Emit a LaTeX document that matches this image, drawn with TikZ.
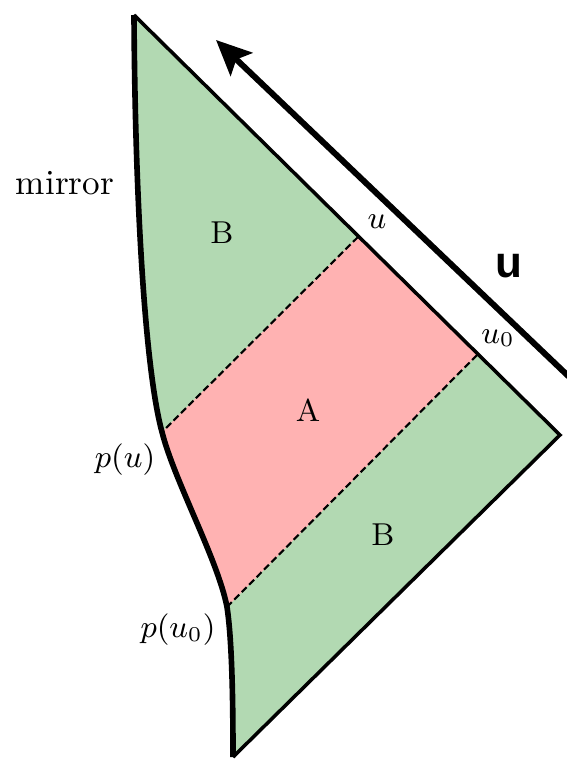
\documentclass[tikz,border=0pt]{standalone}
\usepackage{fontspec}
\newfontfamily\arrowfont{Liberation Sans}
\usetikzlibrary{arrows.meta}
\definecolor{regiongreen}{RGB}{178,217,178}
\definecolor{regionpink}{RGB}{255,178,178}

\begin{document}
\begin{tikzpicture}[
    x=0.01cm,y=-0.01cm,
    font=\small,
    lbl/.style={inner sep=1pt},
    horizon/.style={line width=1pt,line join=miter},
    mirrorline/.style={line width=1.6pt},
    ray/.style={dash pattern=on 2pt off 1pt,line width=0.6pt},
    bigarrow/.style={-{Stealth[length=10pt,width=9pt,inset=2pt]},line width=1.7pt}
  ]
  \useasboundingbox (0,0) rectangle (567,767);
  \coordinate (top) at (134,15);
  \coordinate (right) at (560,435);
  \coordinate (bot) at (233,757);
  \coordinate (u) at (358,237);
  \coordinate (u0) at (477,355);
  \coordinate (pu) at (162,432);
  \coordinate (pu0) at (227,607);

  % regions
  \fill[regiongreen] (top) -- (right) -- (bot)
    .. controls (233,700) and (232,640) .. (pu0)
    .. controls (218,560) and (174,480) .. (pu)
    .. controls (145,370) and (135,200) .. cycle;
  \fill[regionpink] (u) -- (u0) -- (pu0)
    .. controls (218,560) and (174,480) .. (pu) -- cycle;

  % light rays
  \draw[ray] (u) -- (pu);
  \draw[ray] (u0) -- (pu0);

  % null boundary and mirror
  \draw[horizon] (top) -- (right) -- (bot);
  \draw[mirrorline] (top) .. controls (135,200) and (145,370) .. (pu)
    .. controls (174,480) and (218,560) .. (pu0)
    .. controls (232,640) and (233,700) .. (bot);

  % labels
  \node[lbl,font=\normalsize] (mirrorlbl) at (65,183) {mirror};
  \node[lbl] (regB1) at (222,233) {B};
  \node[lbl] (regA) at (308,410) {A};
  \node[lbl] (regB2) at (383,535) {B};
  \node[lbl] (ulbl) at (377,222) {$u$};
  \node[lbl] (u0lbl) at (498,338) {$u_0$};
  \node[lbl] (pulbl) at (125,460) {$p(u)$};
  \node[lbl] (pu0lbl) at (178,630) {$p(u_0)$};
  \node[lbl,font=\arrowfont\bfseries\fontsize{12.5}{14}\selectfont] (dirlbl) at (509,266) {u};

  % direction of u
  \begin{scope}
    \clip (0,0) rectangle (567,767);
    \coordinate (tail) at (585,392);
    \coordinate (head) at (216,40);
    \draw[bigarrow] (tail) -- (head);
  \end{scope}
\end{tikzpicture}
\end{document}
